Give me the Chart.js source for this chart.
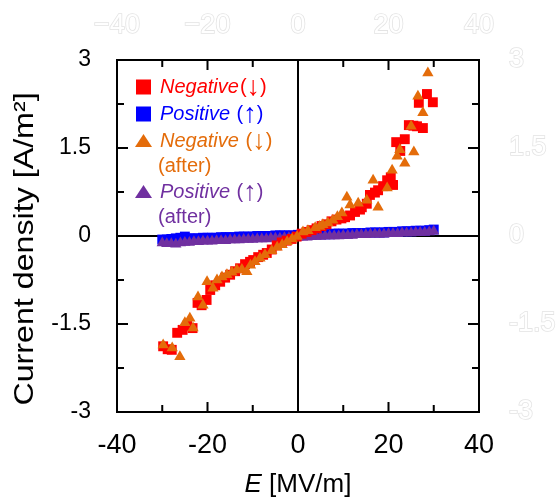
<!DOCTYPE html>
<html>
<head>
<meta charset="utf-8">
<script src="https://cdn.jsdelivr.net/npm/chart.js@4/dist/chart.umd.min.js"></script>
<style>
html,body{margin:0;padding:0;background:#fff;}
canvas{display:block;}
</style>
</head>
<body>
<canvas id="c" width="556" height="497"></canvas>
<script>
// ---------- data ----------
const negX = [-29.8,-28.8,-27.9,-26.7,-25.5,-24.5,-23.3,-22.2,-21.3,-20.2,-19.4,-18.3,-17.2,-16.1,-15.0,-13.9,-12.8,-11.7,-10.6,-9.9,-8.8,-7.7,-6.9,-5.8,-4.7,-3.6,-2.5,-1.4,-0.3,0.8,1.9,3.0,4.1,5.2,6.3,7.4,8.5,9.6,10.4,11.5,12.6,13.7,14.1,15.2,15.9,17.0,17.7,18.8,19.7,20.5,21.0,21.7,22.6,23.6,24.5,25.5,26.3,26.7,27.6,28.5,29.8];
const negY = [-1.88,-1.93,-1.94,-1.65,-1.60,-1.53,-1.57,-1.14,-1.18,-1.09,-0.92,-0.84,-0.78,-0.71,-0.66,-0.60,-0.55,-0.48,-0.44,-0.41,-0.36,-0.32,-0.29,-0.23,-0.16,-0.11,-0.08,-0.05,-0.01,0.04,0.07,0.10,0.13,0.17,0.20,0.25,0.28,0.30,0.32,0.35,0.41,0.45,0.49,0.55,0.70,0.74,0.78,0.85,0.95,1.00,0.87,1.60,1.45,1.65,1.89,1.88,1.87,2.27,1.84,2.42,2.28];

const negAfterX = [-29.8,-27.8,-26.1,-25.0,-23.9,-23.2,-22.1,-21.0,-20.1,-18.8,-17.9,-16.8,-15.7,-14.6,-13.5,-12.4,-11.3,-10.5,-9.5,-8.4,-7.3,-5.8,-4.6,-3.5,-2.4,-1.3,-0.2,1.1,2.2,3.8,4.8,5.5,6.6,7.7,8.7,9.7,10.8,11.5,13.3,15.2,16.6,17.7,19.7,20.8,21.9,22.5,23.6,25.0,25.6,26.5,27.6,28.7];
const negAfterY = [-1.86,-1.91,-2.06,-1.48,-1.40,-1.57,-1.04,-1.18,-0.78,-0.89,-0.75,-0.70,-0.66,-0.62,-0.58,-0.57,-0.61,-0.50,-0.44,-0.38,-0.32,-0.25,-0.19,-0.15,-0.10,-0.05,-0.01,0.07,0.09,0.14,0.16,0.19,0.22,0.27,0.33,0.39,0.66,0.53,0.56,0.61,0.95,0.49,0.82,1.12,1.36,1.47,1.24,1.87,1.43,2.38,2.10,2.78];

const posX = [-30,-29,-28,-27,-26,-25,-24,-23,-22,-21,-20,-19,-18,-17,-16,-15,-14,-13,-12,-11,-10,-9,-8,-7,-6,-5,-4,-3,-2,-1,0,1,2,3,4,5,6,7,8,9,10,11,12,13,14,15,16,17,18,19,20,21,22,23,24,25,26,27,28,29,30];
const posY = [-0.06,-0.06,-0.05,-0.04,-0.03,-0.01,-0.04,-0.04,-0.04,-0.03,-0.03,-0.03,-0.03,-0.02,-0.02,-0.02,-0.02,-0.01,-0.01,-0.01,-0.01,0.00,0.00,0.00,0.00,0.01,0.01,0.01,0.01,0.01,0.02,0.02,0.02,0.02,0.03,0.03,0.03,0.03,0.04,0.04,0.04,0.04,0.05,0.05,0.05,0.05,0.06,0.06,0.06,0.06,0.07,0.07,0.07,0.08,0.08,0.08,0.09,0.09,0.09,0.10,0.11];

const posAfterX = [-30,-29,-28,-27,-26,-25,-24,-23,-22,-21,-20,-19,-18,-17,-16,-15,-14,-13,-12,-11,-10,-9,-8,-7,-6,-5,-4,-3,-2,-1,0,1,2,3,4,5,6,7,8,9,10,11,12,13,14,15,16,17,18,19,20,21,22,23,24,25,26,27,28,29,30];
const posAfterY = [-0.12,-0.13,-0.13,-0.14,-0.12,-0.11,-0.11,-0.10,-0.10,-0.09,-0.09,-0.09,-0.08,-0.08,-0.08,-0.07,-0.07,-0.07,-0.06,-0.06,-0.06,-0.05,-0.05,-0.05,-0.04,-0.04,-0.04,-0.03,-0.03,-0.03,-0.02,-0.02,-0.02,-0.01,-0.01,-0.01,0.00,0.00,0.00,0.00,0.01,0.01,0.01,0.02,0.02,0.02,0.03,0.03,0.03,0.03,0.04,0.04,0.04,0.05,0.05,0.05,0.06,0.06,0.06,0.07,0.08];

const xMajorTicks = [-20, 20];
const xMinorTicks = [-30, -10, 10, 30];
const yMajorTicks = [-1.5, 1.5];
const yMinorTicks = [-2.25, -0.75, 0.75, 2.25];

const legendItems = [
  {label:'Negative', suffix:'(\u2193)', extra:null, color:'#ff0000', marker:'rect'},
  {label:'Positive', suffix:' (\u2191)', extra:null, color:'#0000ff', marker:'rect'},
  {label:'Negative', suffix:' (\u2193)', extra:'(after)', color:'#e46c0a', marker:'triangle'},
  {label:'Positive', suffix:' (\u2191)', extra:'(after)', color:'#7030a0', marker:'triangle'}
];

const F = '"Liberation Sans", Arial, sans-serif';
const toPts = (xs, ys) => xs.map((x, i) => ({x: x, y: ys[i]}));

// ---------- plugins ----------
const framePlugin = {
  id: 'frame',
  beforeDatasetsDraw(chart) {
    const {ctx, chartArea: a, scales} = chart;
    const x = scales.x, y = scales.y;
    ctx.save();
    ctx.strokeStyle = '#000';
    ctx.lineWidth = 2;
    const x0 = x.getPixelForValue(0), y0 = y.getPixelForValue(0);
    ctx.beginPath();
    ctx.moveTo(x0, a.top); ctx.lineTo(x0, a.bottom);
    ctx.moveTo(a.left, y0); ctx.lineTo(a.right, y0);
    ctx.stroke();
    ctx.strokeRect(a.left, a.top, a.right - a.left, a.bottom - a.top);
    ctx.beginPath();
    const xt = (v, len) => {
      const p = x.getPixelForValue(v);
      ctx.moveTo(p, a.bottom); ctx.lineTo(p, a.bottom - len);
      ctx.moveTo(p, a.top); ctx.lineTo(p, a.top + len);
    };
    const yt = (v, len) => {
      const p = y.getPixelForValue(v);
      ctx.moveTo(a.left, p); ctx.lineTo(a.left + len, p);
      ctx.moveTo(a.right, p); ctx.lineTo(a.right - len, p);
    };
    xMajorTicks.forEach(v => xt(v, 10));
    xMinorTicks.forEach(v => xt(v, 7));
    yMajorTicks.forEach(v => yt(v, 11));
    yMinorTicks.forEach(v => yt(v, 7));
    ctx.stroke();
    ctx.restore();
  },
  afterDraw(chart) {
    const {ctx, chartArea: a} = chart;
    ctx.save();
    ctx.fillStyle = '#000';
    // y title
    ctx.translate(25, 249);
    ctx.rotate(-Math.PI / 2);
    ctx.scale(1.15, 1);
    ctx.font = '28px ' + F;
    ctx.textAlign = 'center';
    ctx.textBaseline = 'middle';
    ctx.fillText('Current density [A/m\u00b2]', 0, 0);
    ctx.restore();

    // x title
    ctx.save();
    ctx.fillStyle = '#000';
    ctx.textBaseline = 'alphabetic';
    ctx.font = '26px ' + F;
    const rest = ' [MV/m]';
    const wRest = ctx.measureText(rest).width;
    ctx.font = 'italic 26px ' + F;
    const wE = ctx.measureText('E').width;
    const cx = (a.left + a.right) / 2;
    const sx = cx - (wE + wRest) / 2;
    ctx.fillText('E', sx, 492);
    ctx.font = '26px ' + F;
    ctx.fillText(rest, sx + wE, 492);
    ctx.restore();

    // legend
    ctx.save();
    const rows = [93, 120, 147, 198];
    const extraRows = [null, null, 172, 223];
    legendItems.forEach((it, i) => {
      const by = rows[i];
      ctx.fillStyle = it.color;
      const mx = 143.5, my = by - 6;
      if (it.marker === 'rect') {
        ctx.fillRect(mx - 7.5, my - 7.5, 15, 15);
      } else {
        ctx.beginPath();
        ctx.moveTo(mx, my - 7);
        ctx.lineTo(mx + 8.5, my + 6);
        ctx.lineTo(mx - 8.5, my + 6);
        ctx.closePath();
        ctx.fill();
      }
      ctx.textBaseline = 'alphabetic';
      ctx.textAlign = 'left';
      ctx.font = 'italic 20px ' + F;
      ctx.fillText(it.label, 160, by);
      let cur = 160 + ctx.measureText(it.label).width + 1;
      for (const ch of it.suffix) {
        if (ch === '\u2193' || ch === '\u2191') {
          ctx.font = '27px ' + F;
          ctx.fillText(ch, cur, by + 2);
        } else {
          ctx.font = '20px ' + F;
          ctx.fillText(ch, cur, by);
        }
        cur += ctx.measureText(ch).width;
      }
      if (it.extra) {
        ctx.font = '20px ' + F;
        ctx.fillText(it.extra, 158, extraRows[i]);
      }
    });
    ctx.restore();
  }
};

const ghostTicks = {
  color: '#ffffff',
  textStrokeColor: '#e4e4e4',
  textStrokeWidth: 1.6,
  font: {family: F, size: 27}
};

new Chart(document.getElementById('c'), {
  type: 'scatter',
  data: {
    datasets: [
      {label: 'Positive (\u2191)', data: toPts(posX, posY), pointStyle: 'rect', pointRadius: 7, backgroundColor: '#0000ff', borderWidth: 0, order: 4},
      {label: 'Positive (\u2191) (after)', data: toPts(posAfterX, posAfterY), pointStyle: 'triangle', pointRadius: 6.5, backgroundColor: '#7030a0', borderWidth: 0, order: 3},
      {label: 'Negative(\u2193)', data: toPts(negX, negY), pointStyle: 'rect', pointRadius: 7, backgroundColor: '#ff0000', borderWidth: 0, order: 2},
      {label: 'Negative (\u2193) (after)', data: toPts(negAfterX, negAfterY), pointStyle: 'triangle', pointRadius: 6.5, backgroundColor: '#e46c0a', borderWidth: 0, order: 1}
    ]
  },
  options: {
    responsive: false,
    animation: false,
    devicePixelRatio: 1,
    layout: {padding: 0},
    plugins: {legend: {display: false}, tooltip: {enabled: false}},
    scales: {
      x: {
        type: 'linear', position: 'bottom', min: -40, max: 40,
        ticks: {stepSize: 20, color: '#000', font: {family: F, size: 27}, padding: 17, maxRotation: 0},
        grid: {display: false, drawTicks: false}, border: {display: false},
        afterFit(s) { s.height = 85; }
      },
      x2: {
        type: 'linear', position: 'top', min: -40, max: 40,
        ticks: Object.assign({stepSize: 20, padding: 18, maxRotation: 0,
          callback: v => String(v).replace('-', '\u2212')}, ghostTicks),
        grid: {display: false, drawTicks: false}, border: {display: false},
        afterFit(s) { s.height = 60; }
      },
      y: {
        type: 'linear', position: 'left', min: -3, max: 3,
        ticks: {stepSize: 1.5, color: '#000', font: {family: F, size: 23}, padding: 26},
        grid: {display: false, drawTicks: false}, border: {display: false},
        afterFit(s) { s.width = 117; }
      },
      y2: {
        type: 'linear', position: 'right', min: -3, max: 3,
        ticks: Object.assign({stepSize: 1.5, padding: 30}, ghostTicks),
        grid: {display: false, drawTicks: false}, border: {display: false},
        afterFit(s) { s.width = 77; }
      }
    }
  },
  plugins: [framePlugin]
});
</script>
</body>
</html>
